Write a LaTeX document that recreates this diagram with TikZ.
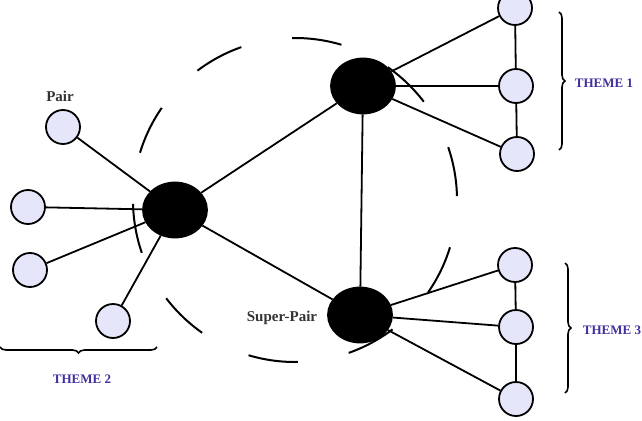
\documentclass[tikz,border=0pt]{standalone}
\usepackage{fontspec}
\setmainfont{Liberation Serif}
\usepackage{xcolor}
\definecolor{cPeer}{HTML}{E6E6FA}
\definecolor{cTheme}{HTML}{3F2F9F}
\definecolor{cText}{HTML}{333333}
\usetikzlibrary{positioning,shapes.geometric,decorations.pathreplacing}
\tikzset{
  node-hub/.style={draw=black,line width=1.8pt,fill=black,ellipse,
    inner sep=0pt,minimum width=64pt,minimum height=55pt},
  node-peer/.style={draw=black,line width=1.8pt,fill=cPeer,circle,
    inner sep=0pt,minimum size=34pt},
  edge-link/.style={draw=black,line width=1.8pt},
  ring-dash/.style={draw=black,line width=2pt,
    dash pattern=on 50pt off 51.8pt,dash phase=53.8pt},
  brace-theme/.style={draw=black,line width=1.6pt,
    decorate,decoration={brace,amplitude=6pt}},
  label-theme/.style={text=cTheme,font=\fontsize{13}{15}\selectfont\bfseries},
  label-role/.style={text=cText,font=\fontsize{15}{17}\selectfont\bfseries},
}
\begin{document}
\begin{tikzpicture}[x=1pt,y=-1pt]
  \clip (0,0) rectangle (642,420);

  \node[node-hub] (hubL) at (175,210) {};
  \node[node-hub] (hubT) at (363,86) {};
  \node[node-hub] (hubB) at (360,315) {};

  \foreach \n/\x/\y in {L1/63/127,L2/28/207,L3/30/270,L4/113/321,
      T1/515/8,T2/516/86,T3/517/154,B1/515/265,B2/516/327,B3/516/399}
    \node[node-peer] (peer\n) at (\x,\y) {};

  \foreach \a/\b in {hubL/hubT,hubL/hubB,hubT/hubB,
      hubL/peerL1,hubL/peerL2,hubL/peerL3,hubL/peerL4,
      hubT/peerT1,hubT/peerT2,hubT/peerT3,peerT1/peerT2,peerT2/peerT3,
      hubB/peerB1,hubB/peerB2,hubB/peerB3,peerB1/peerB2,peerB2/peerB3}
    \draw[edge-link] (\a) -- (\b);

  % dashed ring round the left hub, on top of the links
  \draw[ring-dash] (295,200) circle [radius=162];

  \node[label-role] (lblPair) at (60,96) {Pair};
  \node[label-role] (lblSuper) at (282,318) {Super-Pair};

  \coordinate (braceT1) at (559,12);
  \coordinate (braceT2) at (559,150);
  \coordinate (braceB1) at (565,263);
  \coordinate (braceB2) at (565,393);
  \coordinate (braceL1) at (157,347);
  \coordinate (braceL2) at (0,347);
  \draw[brace-theme] (braceT1) -- (braceT2);
  \draw[brace-theme] (braceB1) -- (braceB2);
  \draw[brace-theme] (braceL1) -- (braceL2);

  \node[label-theme] (theme1) at (604,83) {THEME 1};
  \node[label-theme] (theme3) at (612,330) {THEME 3};
  \node[label-theme] (theme2) at (82,379) {THEME 2};
\end{tikzpicture}
\end{document}
